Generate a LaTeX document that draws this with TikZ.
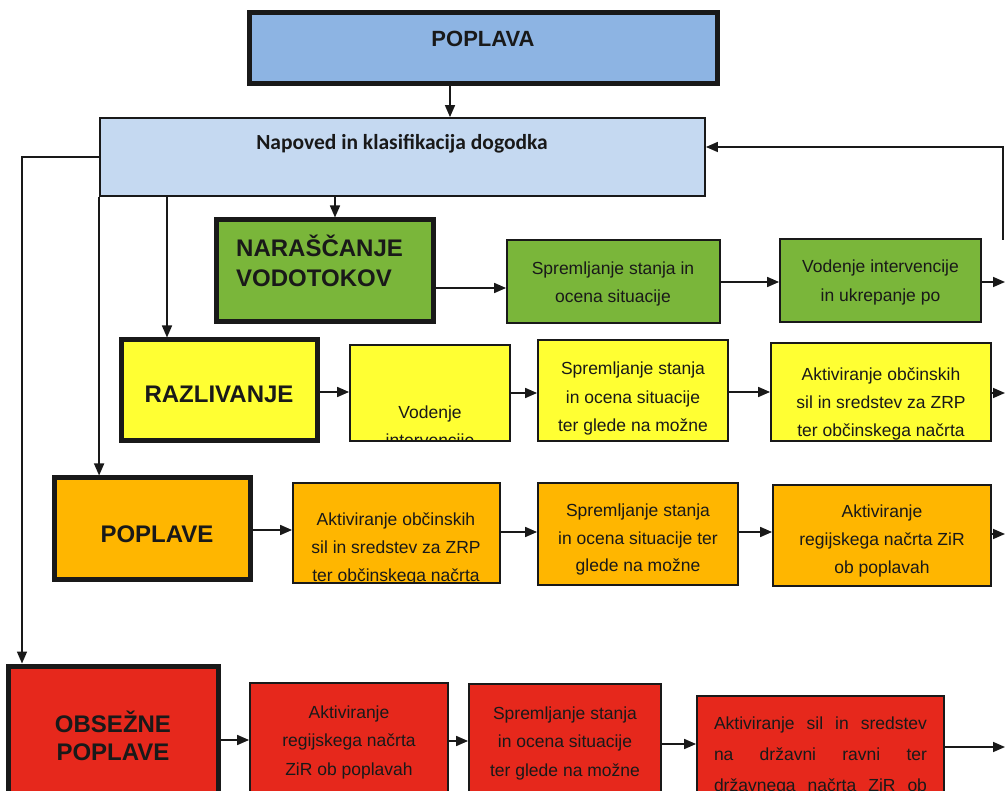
\documentclass[tikz,border=0pt]{standalone}
\usepackage{fontspec}
\setmainfont{Liberation Sans}
\newfontfamily\calib{Carlito}
\usetikzlibrary{arrows.meta}
\definecolor{popblue}{RGB}{141,180,227}
\definecolor{ltblue}{RGB}{197,217,241}
\definecolor{grn}{RGB}{122,182,58}
\definecolor{yel}{RGB}{255,255,51}
\definecolor{org}{RGB}{255,182,0}
\definecolor{rd}{RGB}{230,40,28}
\definecolor{ink}{RGB}{25,25,25}
\tikzset{
  heavybox/.style={draw=ink, line width=5pt},
  lightbox/.style={draw=ink, line width=1.8pt},
  hdr/.style={font=\fontsize{24}{28}\selectfont\bfseries, text=ink, inner sep=0pt},
  txt/.style={font=\fontsize{17.5}{21}\selectfont, text=ink, inner sep=0pt},
  conn/.style={draw=ink, line width=1.6pt, -{Triangle[length=12pt,width=10pt]}},
  plain/.style={draw=ink, line width=1.6pt}
}
\newcommand\bx[6]{\node[#6, minimum width={#4-#2}, minimum height={#5-#3}, inner sep=0pt] (#1) at ({(#2+#4)/2},{(#3+#5)/2}) {};}
\newcommand\boxlines[5]{%
  \begin{scope}
    \clip (#1.south west) rectangle (#1.north east);
    \foreach \t [count=\i] in {#5} \node[txt, anchor=base] (#1-\i) at (#2,{#3+(\i-1)*#4}) {\t};
  \end{scope}}
\begin{document}
\begin{tikzpicture}[x=1pt,y=-1pt]
\useasboundingbox (0,0) rectangle (1005,791);
\fill[white] (0,0) rectangle (1005,791);
\clip (0,0) rectangle (1005,791);

% boxes
\bx{top}{249}{13}{717}{84}{heavybox, fill=popblue}
\bx{blue}{100}{118}{705}{196}{lightbox, fill=ltblue}
\bx{nar}{216}{220}{433}{322}{heavybox, fill=grn}
\bx{g2}{507}{240}{720}{323}{lightbox, fill=grn}
\bx{g3}{780}{239}{981}{322}{lightbox, fill=grn}
\bx{raz}{121}{340}{317}{441}{heavybox, fill=yel}
\bx{y2}{350}{345}{510}{441}{lightbox, fill=yel}
\bx{y3}{538}{340}{728}{441}{lightbox, fill=yel}
\bx{y4}{771}{343}{991}{441}{lightbox, fill=yel}
\bx{pop}{54}{478}{250}{580}{heavybox, fill=org}
\bx{o2}{293}{483}{500}{583}{lightbox, fill=org}
\bx{o3}{538}{483}{738}{585}{lightbox, fill=org}
\bx{o4}{773}{485}{991}{586}{lightbox, fill=org}
\bx{obs}{8}{666}{218}{810}{heavybox, fill=rd}
\bx{r2}{250}{683}{448}{810}{lightbox, fill=rd}
\bx{r3}{469}{684}{661}{810}{lightbox, fill=rd}
\bx{r4}{697}{696}{944}{810}{lightbox, fill=rd}

% header texts
\node[hdr, font=\fontsize{22}{26}\selectfont\bfseries, anchor=base] (top-t) at (483,47) {POPLAVA};
\node[txt, font=\fontsize{21.5}{26}\selectfont\calib\bfseries, anchor=base] (blue-t) at (402,150) {Napoved in klasifikacija dogodka};
\node[hdr, anchor=base west] (nar-1) at (236,257) {NARAŠČANJE};
\node[hdr, anchor=base west] (nar-2) at (236,287) {VODOTOKOV};
\node[hdr, anchor=base] (raz-t) at (219,403) {RAZLIVANJE};
\node[hdr, anchor=base] (pop-t) at (157,543) {POPLAVE};
\node[hdr, anchor=base] (obs-1) at (113,732) {OBSEŽNE};
\node[hdr, anchor=base] (obs-2) at (113,760) {POPLAVE};

% box texts
\boxlines{g2}{613}{275}{28}{Spremljanje stanja in, ocena situacije}
\boxlines{g3}{880.5}{273}{29}{Vodenje intervencije, in ukrepanje po}
\boxlines{y2}{430}{419}{28}{Vodenje, intervencije}
\boxlines{y3}{633}{375}{28.5}{Spremljanje stanja, in ocena situacije, ter glede na možne}
\boxlines{y4}{881}{381}{28}{Aktiviranje občinskih, sil in sredstev za ZRP, ter občinskega načrta}
\boxlines{o2}{396}{526}{28}{Aktiviranje občinskih, sil in sredstev za ZRP, ter občinskega načrta}
\boxlines{o3}{638}{517}{27.5}{Spremljanje stanja, in ocena situacije ter, glede na možne}
\boxlines{o4}{882}{518}{27.5}{Aktiviranje, regijskega načrta ZiR, ob poplavah}
\boxlines{r2}{349}{718}{28.5}{Aktiviranje, regijskega načrta, ZiR ob poplavah}
\boxlines{r3}{565}{719}{28.5}{Spremljanje stanja, in ocena situacije, ter glede na možne}
\boxlines{r4}{820.5}{729}{31}{{\makebox[213pt][s]{Aktiviranje sil in sredstev}}, {\makebox[213pt][s]{na državni ravni ter}}, {\makebox[213pt][s]{državnega načrta ZiR ob}}}

% vertical connectors
\coordinate (topout) at (450,84);
\draw[conn] (topout) -- (topout |- blue.north);
\coordinate (narin) at (335,196);
\draw[conn] (narin) -- (narin |- nar.north);
\coordinate (razin) at (167,196);
\draw[conn] (razin) -- (razin |- raz.north);
\draw[conn] (blue.south west) -- (blue.south west |- pop.north);
\coordinate (lc) at (22,157);
\draw[conn] (blue.west) -- (lc) -- (lc |- obs.north);
\coordinate (fbtop) at (1003,147);
\coordinate (fbbot) at (1003,240);
\draw[conn] (fbbot) -- (fbtop) -- (blue.east |- fbtop);

% edge coordinates
\coordinate (e1) at (1005,282);
\coordinate (e2) at (1005,393);
\coordinate (e3) at (1005,534);
\coordinate (e4) at (1005,747);

% horizontal connectors
\draw[conn] (nar.east |- 0,288) -- (g2.west |- 0,288);
\draw[conn] (g2.east |- 0,282) -- (g3.west |- 0,282);
\draw[conn] (g3.east |- e1) -- (e1);
\draw[conn] (raz.east |- 0,392) -- (y2.west |- 0,392);
\draw[conn] (y2.east |- 0,393) -- (y3.west |- 0,393);
\draw[conn] (y3.east |- 0,392) -- (y4.west |- 0,392);
\draw[conn] (y4.east |- e2) -- (e2);
\draw[conn] (pop.east |- 0,530) -- (o2.west |- 0,530);
\draw[conn] (o2.east |- 0,532) -- (o3.west |- 0,532);
\draw[conn] (o3.east |- 0,532) -- (o4.west |- 0,532);
\draw[conn] (o4.east |- e3) -- (e3);
\draw[conn] (obs.east |- 0,740) -- (r2.west |- 0,740);
\draw[conn] (r2.east |- 0,741) -- (r3.west |- 0,741);
\draw[conn] (r3.east |- 0,744) -- (r4.west |- 0,744);
\draw[conn] (r4.east |- e4) -- (e4);
\end{tikzpicture}
\end{document}
